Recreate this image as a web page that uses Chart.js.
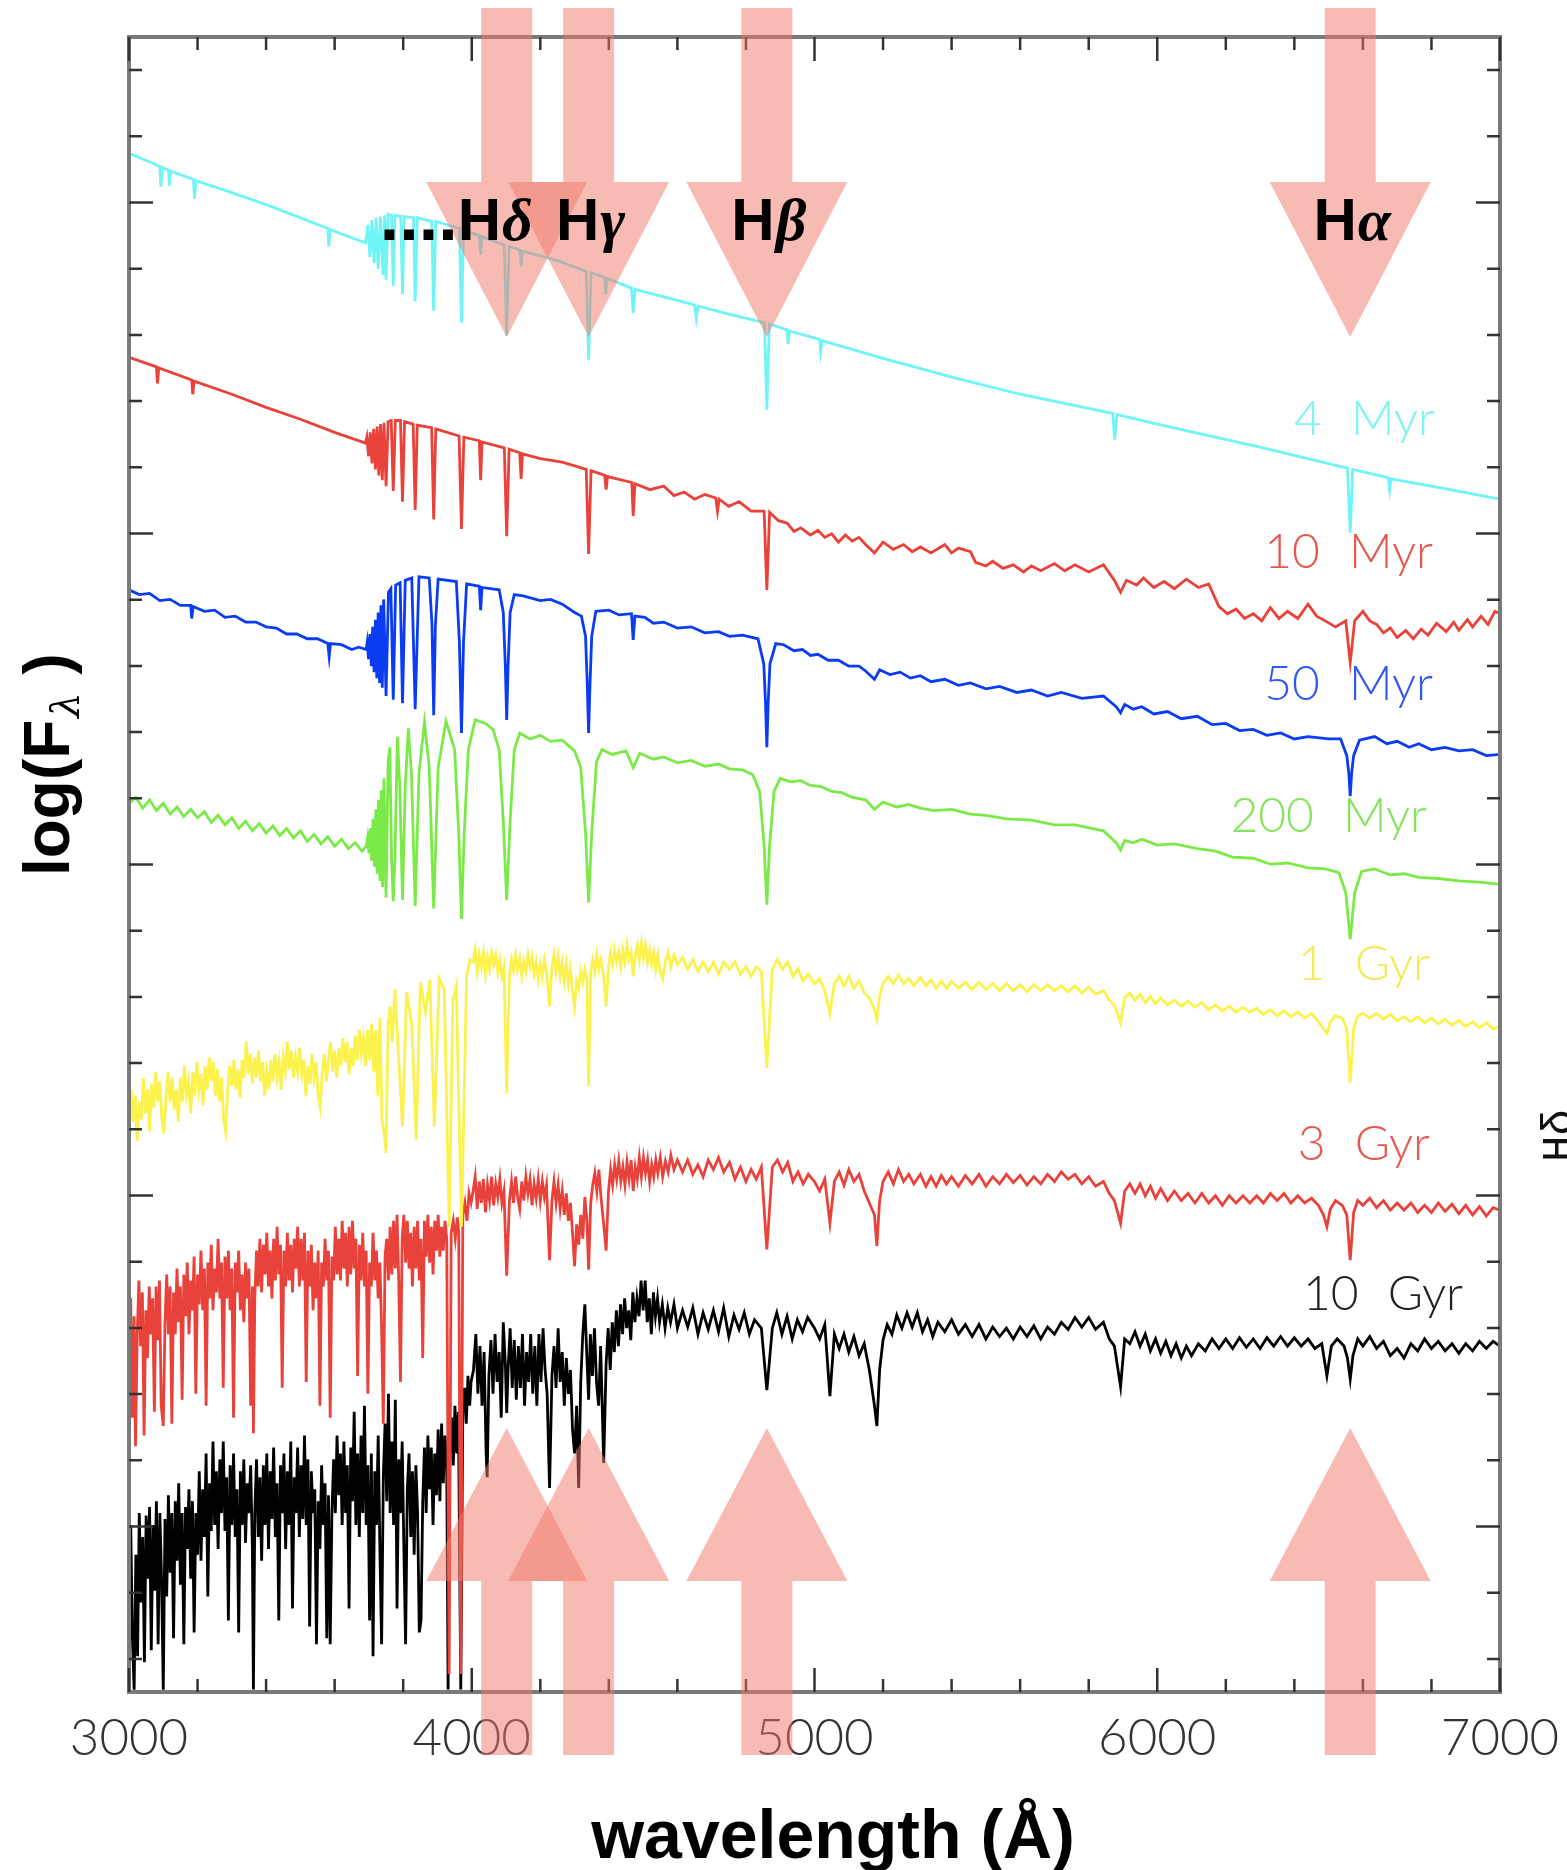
<!DOCTYPE html>
<html>
<head>
<meta charset="utf-8">
<script src="https://cdn.jsdelivr.net/npm/chart.js@4.4.1/dist/chart.umd.min.js"></script>
<style>
  html, body { margin: 0; background: #fff; }
  #wrap { width: 1567px; height: 1870px; position: relative; }
</style>
</head>
<body>
<div id="wrap"><canvas id="spec"></canvas></div>
<script>
// ---- axis ticks ----
var wlMajor = [3000, 4000, 5000, 6000, 7000];
var wlMinor = [3200, 3400, 3600, 3800, 4200, 4400, 4600, 4800, 5200, 5400, 5600, 5800, 6200, 6400, 6600, 6800];
// log flux axis has no labels, only ticks (arbitrary offset units)
var fluxTicks = [27.75, 83.25, 138.75, 194.25, 249.75, 305.25, 360.75, 416.25, 471.75, 527.25, 582.75, 638.25,
  693.75, 749.25, 804.75, 860.25, 915.75, 971.25, 1026.75, 1082.25, 1137.75, 1193.25, 1248.75, 1304.25, 1359.75];
var fluxMajor = [138.75, 416.25, 693.75, 971.25, 1248.75];

// ---- Balmer lines ----
var balmerLabels = ['....H\u03b4', 'H\u03b3', 'H\u03b2', 'H\u03b1'];
var balmerWl = [4102, 4341, 4861, 6563];

// ---- population ages ----
var ageLabels = ['4 Myr', '10 Myr', '50 Myr', '200 Myr', '1 Gyr', '3 Gyr', '10 Gyr'];

// ---- spectra: [wavelength (A), log flux + offset] ----
var spec4Myr = [[3000,1290],[3050,1284],[3090,1279],[3093,1262],[3097,1278],[3115,1276],[3118,1263],[3122,1275],[3188,1268],[3191,1252],[3195,1267],[3300,1257],[3400,1247],[3500,1236],[3580,1227],[3583,1212],[3587,1226],[3690,1215],[3697,1230],[3703,1203],[3709,1234],[3715,1198],[3721,1236],[3727,1193],[3734,1237],[3741,1188],[3746,1238],[3750,1184],[3756,1239],[3766,1238],[3771,1179],[3776,1238],[3793,1237],[3798,1172],[3803,1237],[3830,1236],[3835,1166],[3841,1236],[3883,1233],[3889,1158],[3895,1233],[3964,1227],[3970,1148],[3976,1226],[4022,1221],[4026,1205],[4030,1220],[4095,1213],[4102,1137],[4109,1212],[4140,1209],[4144,1195],[4148,1208],[4250,1200],[4334,1191],[4341,1117],[4348,1190],[4388,1186],[4391,1172],[4395,1185],[4466,1177],[4471,1156],[4476,1176],[4650,1163],[4655,1152],[4660,1162],[4752,1155],[4854,1148],[4861,1075],[4868,1147],[4920,1142],[4923,1130],[4927,1141],[5015,1134],[5018,1124],[5022,1133],[5200,1118],[5406,1102],[5600,1088],[5870,1072],[5876,1050],[5882,1071],[6000,1063],[6293,1044],[6555,1026],[6563,972],[6570,1025],[6674,1018],[6678,1008],[6682,1017],[6800,1011],[7000,1000]];

var spec10Myr = [[3000,1119],[3080,1111],[3083,1097],[3087,1110],[3183,1100],[3186,1088],[3190,1099],[3300,1088],[3400,1077],[3500,1067],[3600,1056],[3690,1047],[3694,1052],[3699,1036],[3704,1056],[3709,1030],[3714,1059],[3719,1025],[3724,1061],[3729,1020],[3734,1063],[3739,1016],[3744,1064],[3750,1011],[3756,1065],[3765,1066],[3771,1007],[3777,1066],[3792,1066],[3798,998],[3804,1065],[3829,1063],[3835,991],[3841,1062],[3883,1060],[3889,983],[3895,1059],[3963,1053],[3970,975],[3977,1052],[4022,1049],[4026,1016],[4030,1048],[4095,1043],[4102,969],[4109,1042],[4140,1039],[4144,1017],[4148,1038],[4200,1034],[4264,1031],[4334,1025],[4341,954],[4348,1024],[4388,1020],[4392,1008],[4396,1019],[4467,1014],[4471,986],[4476,1013],[4520,1008],[4560,1011],[4590,1003],[4620,1006],[4650,1000],[4680,1004],[4712,1001],[4717,990],[4722,1000],[4750,994],[4780,998],[4815,990],[4853,990],[4861,924],[4869,989],[4895,982],[4920,980],[4940,973],[4960,976],[4988,970],[5010,974],[5030,968],[5050,971],[5070,964],[5090,970],[5110,965],[5130,968],[5149,962],[5175,955],[5200,964],[5230,958],[5260,962],[5285,956],[5309,960],[5340,955],[5380,962],[5400,955],[5420,959],[5455,956],[5470,947],[5500,944],[5520,948],[5550,942],[5580,945],[5610,939],[5633,944],[5660,940],[5700,946],[5730,940],[5760,945],[5800,939],[5843,945],[5875,932],[5893,922],[5910,932],[5940,928],[5960,934],[5990,926],[6020,931],[6050,925],[6085,933],[6120,926],[6150,929],[6180,910],[6205,904],[6230,908],[6255,900],[6280,904],[6305,898],[6330,909],[6355,900],[6380,906],[6410,900],[6440,912],[6465,902],[6490,898],[6520,893],[6550,898],[6563,863],[6576,898],[6600,906],[6620,898],[6640,895],[6660,888],[6680,892],[6700,884],[6725,890],[6747,883],[6770,891],[6790,886],[6815,896],[6843,889],[6865,897],[6880,890],[6905,899],[6920,893],[6945,902],[6965,895],[6985,906],[7000,904]];

var spec50Myr = [[3000,924],[3030,920],[3060,921],[3090,915],[3120,916],[3150,911],[3180,911],[3183,900],[3187,910],[3220,906],[3250,907],[3280,901],[3310,902],[3340,897],[3370,897],[3400,893],[3430,892],[3460,887],[3490,887],[3520,883],[3550,883],[3580,879],[3584,868],[3588,879],[3620,878],[3650,874],[3670,876],[3692,874],[3695,880],[3699,866],[3703,887],[3707,860],[3711,893],[3715,855],[3719,899],[3723,850],[3727,905],[3731,846],[3735,911],[3739,842],[3743,916],[3750,835],[3757,922],[3764,925],[3771,832],[3778,928],[3791,930],[3798,829],[3806,932],[3825,934],[3835,824],[3846,935],[3876,934],[3884,895],[3889,819],[3894,895],[3902,933],[3955,931],[3964,880],[3970,804],[3976,880],[3985,929],[4022,927],[4026,907],[4030,926],[4080,924],[4092,905],[4098,860],[4102,815],[4106,860],[4112,905],[4124,920],[4150,919],[4200,915],[4230,916],[4264,912],[4300,905],[4320,902],[4332,885],[4337,845],[4341,804],[4345,845],[4350,885],[4362,906],[4400,907],[4430,903],[4466,904],[4471,882],[4476,902],[4505,901],[4530,896],[4560,897],[4600,892],[4640,893],[4680,888],[4720,889],[4752,885],[4790,886],[4835,883],[4852,862],[4857,830],[4861,792],[4865,830],[4870,862],[4887,879],[4910,878],[4940,873],[4965,874],[4988,869],[5010,870],[5040,865],[5070,865],[5100,860],[5130,860],[5149,856],[5175,849],[5190,857],[5220,853],[5250,855],[5280,850],[5309,852],[5340,847],[5380,849],[5420,844],[5455,846],[5500,841],[5540,843],[5590,838],[5633,840],[5680,835],[5720,838],[5780,833],[5843,835],[5880,826],[5893,821],[5905,828],[5930,824],[5955,826],[5990,820],[6030,822],[6070,816],[6117,818],[6160,811],[6200,812],[6240,806],[6280,807],[6320,802],[6360,804],[6400,799],[6440,801],[6500,799],[6535,799],[6553,785],[6559,770],[6563,751],[6567,770],[6573,785],[6590,798],[6634,801],[6670,795],[6700,797],[6735,792],[6763,795],[6800,790],[6840,792],[6880,789],[6920,790],[6960,785],[7000,786]];

var spec200Myr = [[3000,745],[3020,750],[3040,741],[3060,748],[3080,739],[3100,745],[3120,736],[3140,742],[3160,734],[3180,740],[3200,733],[3220,738],[3240,729],[3260,735],[3280,727],[3300,733],[3320,724],[3340,730],[3360,722],[3380,728],[3400,720],[3420,726],[3440,718],[3460,724],[3480,716],[3500,722],[3520,713],[3540,719],[3560,711],[3580,717],[3600,709],[3620,715],[3640,707],[3660,712],[3680,705],[3692,709],[3696,716],[3700,703],[3704,724],[3708,697],[3712,732],[3716,692],[3720,740],[3724,686],[3728,748],[3732,680],[3736,756],[3740,675],[3744,766],[3750,666],[3756,780],[3761,792],[3766,700],[3771,663],[3776,700],[3783,801],[3790,760],[3798,664],[3806,760],[3815,808],[3824,770],[3835,659],[3846,770],[3862,813],[3876,775],[3889,657],[3902,775],[3925,814],[3950,790],[3962,720],[3970,648],[3978,720],[3990,790],[4010,815],[4040,812],[4062,807],[4080,790],[4092,730],[4102,664],[4112,730],[4124,790],[4140,804],[4170,799],[4200,802],[4230,797],[4264,798],[4300,789],[4318,775],[4332,720],[4341,662],[4350,720],[4364,780],[4380,790],[4410,786],[4450,789],[4471,775],[4490,787],[4530,782],[4560,784],[4600,779],[4640,781],[4680,776],[4720,778],[4752,774],[4790,773],[4820,769],[4840,755],[4853,710],[4861,660],[4869,710],[4882,755],[4900,766],[4930,763],[4960,764],[4988,760],[5020,759],[5050,755],[5080,754],[5110,750],[5149,748],[5175,740],[5200,746],[5240,742],[5275,744],[5309,741],[5350,739],[5400,740],[5455,736],[5500,735],[5560,732],[5633,731],[5700,727],[5760,727],[5843,722],[5880,712],[5893,706],[5905,714],[5930,712],[5955,715],[6000,710],[6050,711],[6117,707],[6170,705],[6220,700],[6280,699],[6330,694],[6380,695],[6440,691],[6490,690],[6530,687],[6550,670],[6563,631],[6576,670],[6596,688],[6634,690],[6680,685],[6720,686],[6763,683],[6820,682],[6880,680],[6940,679],[7000,677]];

var spec1Gyr = [[3000,470],[3006,505],[3012,478],[3018,500],[3024,462],[3030,495],[3036,480],[3042,515],[3048,485],[3054,505],[3060,470],[3066,510],[3072,490],[3078,520],[3084,495],[3090,512],[3096,480],[3102,468],[3108,500],[3114,520],[3120,495],[3126,515],[3132,488],[3138,505],[3144,478],[3150,515],[3156,495],[3162,525],[3168,500],[3174,512],[3180,485],[3186,520],[3192,500],[3198,528],[3204,505],[3210,518],[3216,492],[3222,525],[3228,505],[3234,532],[3240,512],[3246,528],[3252,500],[3258,522],[3264,495],[3270,515],[3276,480],[3282,470],[3288,505],[3294,525],[3300,508],[3306,530],[3312,505],[3318,522],[3324,498],[3330,530],[3336,515],[3342,545],[3348,518],[3354,535],[3360,510],[3366,532],[3372,515],[3378,538],[3384,512],[3390,528],[3396,500],[3402,520],[3408,505],[3414,530],[3420,512],[3426,535],[3432,515],[3438,528],[3444,505],[3450,532],[3456,520],[3462,545],[3468,522],[3474,538],[3480,515],[3486,532],[3492,520],[3498,540],[3504,518],[3510,530],[3516,500],[3522,525],[3528,510],[3534,535],[3540,515],[3546,528],[3552,500],[3558,490],[3564,520],[3570,535],[3576,512],[3582,530],[3588,545],[3594,520],[3600,538],[3606,515],[3612,540],[3618,525],[3624,548],[3630,528],[3636,545],[3642,518],[3648,540],[3654,525],[3660,550],[3666,530],[3672,555],[3678,535],[3684,548],[3690,525],[3696,555],[3702,530],[3708,560],[3714,520],[3720,555],[3726,500],[3732,565],[3738,480],[3744,470],[3750,452],[3756,560],[3762,575],[3768,545],[3776,589],[3785,540],[3798,474],[3810,587],[3825,560],[3838,463],[3850,595],[3865,570],[3878,597],[3891,474],[3905,598],[3920,589],[3934,390],[3945,580],[3955,592],[3970,390],[3985,600],[3995,614],
  [4004,612],[4010,622],[4016,604],[4022,618],[4028,608],[4034,620],[4040,602],[4046,616],[4052,606],[4058,620],[4064,610],[4070,618],[4076,604],[4082,614],[4088,600],[4094,608],[4102,502],[4110,600],[4116,614],[4122,605],[4128,618],[4134,606],[4140,615],[4146,600],[4152,612],[4158,604],[4164,618],[4170,608],[4176,616],[4182,602],[4188,612],[4194,598],[4200,610],[4206,600],[4212,614],[4218,604],[4227,575],[4234,608],[4240,618],[4246,604],[4252,616],[4258,600],[4264,612],[4270,596],[4276,610],[4282,594],[4288,606],[4294,588],[4300,575],[4306,596],[4312,590],[4318,604],[4324,595],[4330,606],[4336,598],[4341,508],[4347,604],[4353,614],[4359,604],[4365,618],[4371,606],[4377,614],[4385,600],[4392,575],[4399,608],[4405,620],[4411,610],[4417,622],[4423,612],[4429,620],[4435,608],[4441,622],[4447,612],[4453,626],[4459,614],[4465,620],[4471,600],[4477,618],[4483,626],[4489,614],[4495,628],[4501,616],[4507,626],[4513,612],[4519,622],[4525,610],[4531,620],[4537,606],[4543,618],[4550,604],[4557,598],[4565,612],[4573,620],[4581,608],[4590,618],[4600,610],
  [4615,616],[4630,606],[4645,614],[4660,604],[4675,612],[4690,604],[4705,612],[4720,602],[4735,612],[4752,606],[4768,612],[4784,602],[4800,608],[4815,600],[4830,608],[4845,604],[4861,523],[4877,606],[4892,614],[4907,606],[4922,612],[4937,600],[4952,606],[4967,596],[4982,602],[5000,594],[5015,598],[5030,588],[5045,569],[5058,594],[5072,600],[5086,592],[5100,600],[5115,590],[5130,596],[5145,586],[5160,582],[5175,572],[5182,564],[5190,584],[5200,594],[5215,600],[5230,594],[5245,601],[5260,594],[5275,598],[5290,592],[5309,599],[5325,592],[5340,597],[5355,590],[5370,596],[5385,590],[5400,596],[5420,590],[5440,595],[5460,589],[5480,595],[5500,589],[5520,594],[5540,588],[5560,594],[5580,588],[5600,593],[5620,587],[5640,593],[5660,588],[5680,593],[5700,588],[5720,592],[5740,587],[5760,592],[5780,586],[5800,591],[5820,585],[5843,588],[5860,580],[5875,576],[5893,561],[5905,582],[5920,586],[5935,580],[5950,585],[5965,578],[5980,583],[5995,577],[6010,582],[6030,576],[6050,580],[6070,575],[6090,579],[6110,574],[6130,578],[6150,572],[6170,576],[6190,571],[6210,575],[6230,570],[6250,574],[6270,570],[6290,573],[6310,568],[6330,572],[6350,567],[6370,571],[6390,566],[6410,570],[6430,565],[6450,569],[6470,562],[6485,556],[6495,552],[6505,562],[6520,567],[6540,565],[6553,556],[6563,511],[6573,556],[6585,567],[6600,569],[6620,565],[6640,569],[6660,564],[6680,568],[6700,563],[6720,566],[6740,562],[6760,566],[6780,561],[6800,565],[6820,560],[6840,564],[6860,559],[6880,563],[6900,558],[6920,562],[6940,557],[6960,561],[6980,556],[7000,558]];

var spec3Gyr = [[3000,260],[3005,330],[3010,230],[3015,315],[3019,206],[3024,300],[3029,345],[3034,290],[3039,335],[3044,215],[3049,320],[3054,280],[3059,340],[3064,300],[3069,330],[3074,235],[3079,340],[3084,295],[3089,345],[3094,240],[3100,223],[3105,310],[3110,350],[3115,300],[3120,340],[3125,225],[3130,335],[3135,300],[3140,355],[3145,310],[3150,340],[3155,245],[3160,350],[3165,315],[3170,360],[3175,300],[3180,345],[3185,320],[3190,365],[3195,250],[3200,350],[3205,325],[3210,370],[3215,320],[3220,355],[3225,240],[3230,360],[3235,330],[3240,375],[3245,320],[3250,355],[3255,335],[3260,380],[3265,330],[3270,360],[3275,255],[3280,365],[3285,330],[3290,370],[3295,320],[3300,355],[3305,230],[3310,360],[3315,335],[3320,370],[3325,320],[3330,350],[3335,310],[3340,360],[3345,330],[3350,355],[3355,240],[3360,340],[3363,217],[3367,330],[3372,370],[3377,340],[3382,380],[3387,335],[3392,375],[3397,350],[3402,385],[3407,340],[3412,370],[3417,330],[3422,380],[3427,345],[3432,390],[3437,350],[3442,375],[3447,255],[3452,370],[3457,340],[3462,385],[3467,345],[3472,375],[3477,335],[3482,380],[3487,355],[3492,390],[3497,340],[3502,380],[3507,345],[3512,385],[3517,260],[3522,370],[3527,340],[3532,375],[3537,320],[3542,360],[3547,330],[3552,370],[3557,240],[3562,360],[3567,340],[3572,380],[3577,345],[3582,370],[3587,230],[3592,365],[3597,345],[3602,390],[3607,350],[3612,380],[3617,345],[3622,395],[3627,355],[3632,385],[3637,340],[3642,390],[3647,350],[3652,395],[3657,355],[3662,380],[3667,265],[3672,375],[3677,345],[3682,385],[3687,340],[3692,370],[3697,250],[3702,360],[3707,340],[3712,385],[3717,345],[3722,370],[3727,330],[3732,360],[3737,305],[3742,225],[3747,365],[3752,380],[3757,345],[3762,390],[3767,350],[3772,395],[3777,355],[3782,400],[3787,345],[3792,260],[3797,380],[3802,400],[3807,360],[3812,395],[3817,355],[3822,385],[3827,340],[3832,390],[3837,355],[3842,395],[3847,345],[3852,380],[3857,280],[3862,395],[3867,365],[3872,400],[3877,360],[3882,390],[3887,350],[3892,395],[3897,370],[3902,400],[3907,365],[3912,390],[3917,370],[3922,395],[3927,380],[3934,15],[3940,385],[3946,395],[3952,380],[3958,398],[3962,385],[3968,15],[3974,400],[3980,410],[3986,395],[3992,418],[3998,410],
  [4004,420],[4010,432],[4016,405],[4022,428],[4028,410],[4034,430],[4040,402],[4046,425],[4052,412],[4058,432],[4064,408],[4070,426],[4076,415],[4082,430],[4088,410],[4094,420],[4102,349],[4110,412],[4116,428],[4122,410],[4128,432],[4134,415],[4140,405],[4146,428],[4152,412],[4158,432],[4164,418],[4170,430],[4176,408],[4182,426],[4188,414],[4194,430],[4200,412],[4206,428],[4212,415],[4218,425],[4227,362],[4234,412],[4240,428],[4246,410],[4252,425],[4258,405],[4264,420],[4270,400],[4276,418],[4282,395],[4288,410],[4294,385],[4300,357],[4306,392],[4312,375],[4318,400],[4324,380],[4330,415],[4336,395],[4341,354],[4347,410],[4353,425],[4359,435],[4365,420],[4371,438],[4377,415],[4385,392],[4392,370],[4399,420],[4405,438],[4411,425],[4417,442],[4423,430],[4429,445],[4435,428],[4441,440],[4447,425],[4453,444],[4459,430],[4465,446],[4471,420],[4477,440],[4483,430],[4489,448],[4495,432],[4501,448],[4507,435],[4513,446],[4519,428],[4525,442],[4531,432],[4537,446],[4543,435],[4550,448],[4557,432],[4565,445],[4573,436],[4581,450],[4590,438],[4600,446],
  [4615,436],[4630,446],[4645,434],[4660,442],[4675,432],[4690,446],[4705,438],[4720,448],[4735,436],[4752,444],[4768,430],[4784,440],[4800,428],[4815,438],[4830,430],[4845,440],[4861,371],[4877,440],[4892,446],[4907,436],[4922,444],[4937,428],[4952,436],[4967,426],[4982,434],[5000,428],[5015,420],[5030,430],[5045,393],[5058,428],[5072,436],[5086,425],[5100,438],[5115,428],[5130,434],[5145,420],[5160,410],[5175,400],[5182,374],[5190,412],[5200,428],[5215,436],[5230,426],[5245,438],[5260,428],[5275,434],[5290,426],[5309,434],[5325,424],[5340,432],[5355,424],[5370,433],[5385,426],[5400,432],[5420,424],[5440,433],[5460,426],[5480,434],[5500,424],[5520,432],[5540,426],[5560,434],[5580,427],[5600,433],[5620,425],[5640,432],[5660,426],[5680,434],[5700,428],[5720,436],[5740,430],[5760,434],[5780,426],[5800,432],[5820,424],[5843,428],[5860,418],[5875,412],[5893,393],[5905,420],[5920,426],[5935,418],[5950,426],[5965,416],[5980,424],[5995,414],[6010,422],[6030,412],[6050,420],[6070,412],[6090,418],[6110,410],[6130,418],[6150,410],[6170,416],[6190,408],[6210,416],[6230,410],[6250,416],[6270,410],[6290,416],[6310,410],[6330,418],[6350,412],[6370,418],[6390,410],[6410,416],[6430,410],[6450,414],[6470,408],[6485,400],[6495,390],[6505,405],[6520,412],[6540,408],[6553,400],[6563,362],[6573,402],[6585,412],[6600,408],[6620,414],[6640,406],[6660,412],[6680,404],[6700,410],[6720,404],[6740,410],[6760,402],[6780,408],[6800,402],[6820,410],[6840,403],[6860,409],[6880,401],[6900,408],[6920,400],[6940,407],[6960,399],[6980,406],[7000,404]];

var spec10Gyr = [[3000,90],[3005,140],[3010,45],[3015,2],[3020,115],[3025,30],[3030,150],[3035,75],[3040,130],[3045,25],[3050,148],[3055,95],[3060,155],[3065,35],[3070,140],[3075,85],[3080,160],[3085,40],[3090,150],[3095,95],[3100,2],[3105,145],[3110,80],[3115,165],[3120,100],[3125,150],[3130,45],[3135,160],[3140,110],[3145,175],[3150,90],[3155,150],[3160,40],[3165,155],[3170,120],[3175,170],[3180,95],[3185,160],[3190,50],[3195,150],[3200,115],[3205,185],[3210,110],[3215,170],[3220,130],[3225,200],[3230,80],[3235,175],[3240,135],[3245,210],[3250,140],[3255,185],[3260,120],[3265,195],[3270,150],[3275,210],[3280,135],[3285,180],[3290,60],[3295,190],[3300,140],[3305,200],[3310,130],[3315,170],[3320,50],[3325,185],[3330,140],[3335,195],[3340,125],[3345,175],[3350,150],[3355,190],[3360,120],[3363,2],[3367,150],[3372,195],[3377,130],[3382,180],[3387,110],[3392,190],[3397,140],[3402,200],[3407,120],[3412,185],[3417,145],[3422,205],[3427,130],[3432,175],[3437,60],[3442,190],[3447,150],[3452,200],[3457,120],[3462,185],[3467,140],[3472,210],[3477,70],[3482,180],[3487,150],[3492,205],[3497,130],[3502,190],[3507,145],[3512,215],[3517,140],[3522,195],[3527,55],[3532,185],[3537,150],[3542,170],[3547,40],[3552,160],[3557,120],[3562,190],[3567,140],[3572,175],[3577,45],[3582,165],[3587,40],[3592,150],[3597,195],[3602,150],[3607,215],[3612,165],[3617,200],[3622,140],[3627,210],[3632,150],[3637,190],[3642,70],[3647,205],[3652,160],[3657,235],[3662,140],[3667,200],[3672,130],[3677,215],[3682,150],[3687,240],[3692,140],[3697,190],[3702,60],[3707,200],[3712,30],[3717,185],[3722,140],[3727,215],[3732,120],[3737,40],[3742,180],[3747,225],[3752,160],[3757,250],[3762,150],[3767,210],[3772,140],[3777,245],[3782,70],[3787,195],[3792,150],[3797,210],[3802,120],[3807,40],[3812,170],[3817,200],[3822,130],[3827,185],[3832,115],[3837,190],[3842,150],[3847,50],[3852,60],[3857,160],[3862,205],[3867,150],[3872,215],[3877,170],[3882,205],[3887,140],[3892,200],[3897,165],[3902,220],[3907,160],[3912,225],[3917,175],[3922,215],[3927,190],[3931,2],[3936,200],[3941,230],[3946,190],[3951,240],[3956,200],[3961,235],[3968,2],[3974,240],[3979,255],[3984,225],[3989,265],[3994,240],[3998,260],
  [4005,270],[4012,300],[4018,250],[4024,290],[4030,240],[4036,285],[4042,200],[4045,180],[4050,265],[4056,295],[4062,250],[4068,300],[4074,260],[4080,285],[4086,230],[4092,310],[4098,275],[4102,234],[4106,270],[4112,305],[4118,255],[4124,295],[4130,245],[4136,290],[4142,255],[4148,300],[4154,240],[4160,285],[4166,260],[4172,300],[4178,250],[4184,290],[4190,240],[4196,300],[4202,260],[4208,305],[4214,270],[4220,250],[4227,171],[4234,265],[4240,290],[4246,255],[4252,305],[4258,260],[4264,285],[4270,240],[4276,280],[4282,250],[4288,270],[4294,220],[4300,200],[4306,240],[4312,171],[4318,260],[4324,300],[4330,325],[4336,280],[4341,245],[4346,300],[4352,265],[4358,305],[4364,260],[4370,240],[4376,290],[4385,192],[4392,275],[4398,305],[4404,270],[4410,310],[4416,285],[4422,320],[4428,290],[4434,325],[4440,300],[4446,330],[4452,305],[4458,320],[4464,295],[4470,335],[4476,310],[4482,330],[4488,315],[4494,345],[4500,320],[4506,345],[4512,310],[4518,330],[4524,300],[4530,335],[4536,315],[4542,330],[4548,310],[4556,325],[4564,305],[4572,322],[4580,310],[4590,325],[4600,305],
  [4615,320],[4630,306],[4645,322],[4660,300],[4675,318],[4690,304],[4705,320],[4720,302],[4735,322],[4750,298],[4765,316],[4780,304],[4795,318],[4810,300],[4825,312],[4845,305],[4861,253],[4877,305],[4890,318],[4905,300],[4920,315],[4935,296],[4950,312],[4965,302],[4980,314],[5000,305],[5015,296],[5030,308],[5045,248],[5058,300],[5072,288],[5086,300],[5100,285],[5115,298],[5130,282],[5145,292],[5160,270],[5175,240],[5182,223],[5190,270],[5200,295],[5212,308],[5226,300],[5240,316],[5255,305],[5270,318],[5285,306],[5300,318],[5315,302],[5330,312],[5345,298],[5360,310],[5380,302],[5400,312],[5420,300],[5440,308],[5460,298],[5480,308],[5500,296],[5520,306],[5540,298],[5560,305],[5580,296],[5600,306],[5620,298],[5640,307],[5660,296],[5680,306],[5700,300],[5720,310],[5740,304],[5760,314],[5780,306],[5800,314],[5820,304],[5843,310],[5860,296],[5875,290],[5893,256],[5905,296],[5920,292],[5935,302],[5950,290],[5965,300],[5980,286],[5995,296],[6010,284],[6025,294],[6040,282],[6055,292],[6070,280],[6085,290],[6100,282],[6120,292],[6140,286],[6160,296],[6180,288],[6200,296],[6220,288],[6240,297],[6260,289],[6280,296],[6300,288],[6320,297],[6340,290],[6360,298],[6380,290],[6400,297],[6420,290],[6440,296],[6460,288],[6480,292],[6495,265],[6508,290],[6525,296],[6545,290],[6555,280],[6563,262],[6571,282],[6585,296],[6600,290],[6620,298],[6640,288],[6660,294],[6680,282],[6700,288],[6720,280],[6740,292],[6760,286],[6780,296],[6800,288],[6820,294],[6840,286],[6860,292],[6880,284],[6900,292],[6920,286],[6940,294],[6960,288],[6980,294],[7000,290]];

var spectra = [spec4Myr, spec10Myr, spec50Myr, spec200Myr, spec1Gyr, spec3Gyr, spec10Gyr];
var lineColors = ['#6ff5f5', '#e8423a', '#0a3cf2', '#7bea48', '#fbf24e', '#e8423a', '#000000'];
var labelColors = ['#7df4f4', '#e5584d', '#3158f0', '#86e45c', '#f3ea55', '#e5584d', '#222222'];
// right edge / baseline of each age label, px
var labelPos = [[1435, 435], [1433, 568], [1433, 700], [1427, 832], [1430, 980], [1430, 1160], [1463, 1310]];

var ARROW = 'rgba(241,119,105,0.5)';
var SHAFT_W = 51, HEAD_W = 161;
var FONT_H = 'bold 60px "Liberation Sans"';
var FONT_DOTS = 'bold 70px "Liberation Sans"';
var FONT_GREEK = 'italic bold 60px "Liberation Serif"';

function arrow(ctx, cx, tail, base, tip) {
  ctx.beginPath();
  ctx.moveTo(cx - SHAFT_W / 2, tail);
  ctx.lineTo(cx + SHAFT_W / 2, tail);
  ctx.lineTo(cx + SHAFT_W / 2, base);
  ctx.lineTo(cx + HEAD_W / 2, base);
  ctx.lineTo(cx, tip);
  ctx.lineTo(cx - HEAD_W / 2, base);
  ctx.lineTo(cx - SHAFT_W / 2, base);
  ctx.closePath();
  ctx.fill();
}

// "....Hδ" -> dots, "H", greek letter; each in its own font
function lineLabel(ctx, text, x, y, align) {
  var greek = text.slice(-1);
  var body = text.slice(0, -1);
  var dots = body.replace(/[^.]/g, '');
  var lead = body.slice(dots.length);
  ctx.font = FONT_DOTS; var w0 = dots ? ctx.measureText(dots).width : 0;
  ctx.font = FONT_H; var w1 = ctx.measureText(lead).width;
  ctx.font = FONT_GREEK; var w2 = ctx.measureText(greek).width;
  var total = w0 + w1 + w2 + 1;
  var left = align === 'right' ? x - total : x - total / 2;
  ctx.textAlign = 'left';
  if (dots) { ctx.font = FONT_DOTS; ctx.fillText(dots, left, y); }
  ctx.font = FONT_H; ctx.fillText(lead, left + w0, y);
  ctx.font = FONT_GREEK; ctx.fillText(greek, left + w0 + w1 + 1, y);
}

var overlay = {
  id: 'overlay',
  afterDatasetsDraw: function (chart) {
    var ctx = chart.ctx, a = chart.chartArea;
    var xs = chart.scales.x, ys = chart.scales.y;
    ctx.save();

    // frame
    ctx.strokeStyle = '#7a7a7a';
    ctx.lineWidth = 4;
    ctx.strokeRect(a.left, a.top, a.right - a.left, a.bottom - a.top);

    // inward ticks on all four sides
    ctx.strokeStyle = '#333';
    ctx.lineWidth = 2.5;
    ctx.beginPath();
    wlMajor.concat(wlMinor).forEach(function (v) {
      var px = xs.getPixelForValue(v), len = wlMajor.indexOf(v) >= 0 ? 24 : 13;
      ctx.moveTo(px, a.bottom); ctx.lineTo(px, a.bottom - len);
      ctx.moveTo(px, a.top); ctx.lineTo(px, a.top + len);
    });
    fluxTicks.forEach(function (v) {
      var py = ys.getPixelForValue(v), len = fluxMajor.indexOf(v) >= 0 ? 24 : 13;
      ctx.moveTo(a.left, py); ctx.lineTo(a.left + len, py);
      ctx.moveTo(a.right, py); ctx.lineTo(a.right - len, py);
    });
    ctx.stroke();

    // tick labels
    ctx.fillStyle = '#333';
    ctx.font = '300 51px Lato';
    ctx.textAlign = 'center';
    ctx.textBaseline = 'alphabetic';
    wlMajor.forEach(function (v) {
      ctx.fillText(String(v), xs.getPixelForValue(v), 1755);
    });

    // Balmer arrows
    ctx.fillStyle = ARROW;
    balmerWl.forEach(function (wl) {
      var cx = xs.getPixelForValue(wl);
      arrow(ctx, cx, 8, 182, 337);
      arrow(ctx, cx, 1755, 1581, 1428);
    });

    // Balmer labels
    ctx.fillStyle = '#000';
    balmerLabels.forEach(function (t, i) {
      var cx = xs.getPixelForValue(balmerWl[i]);
      if (i === 0) lineLabel(ctx, t, cx + 26, 240, 'right');
      else lineLabel(ctx, t, cx + 2, 240, 'center');
    });

    // age labels
    ctx.font = '300 48px Lato';
    ctx.textAlign = 'right';
    if ('wordSpacing' in ctx) ctx.wordSpacing = '16px';
    ageLabels.forEach(function (t, i) {
      ctx.fillStyle = labelColors[i];
      ctx.fillText(t, labelPos[i][0], labelPos[i][1]);
    });
    if ('wordSpacing' in ctx) ctx.wordSpacing = '0px';

    // axis titles
    ctx.fillStyle = '#000';
    ctx.textAlign = 'center';
    ctx.font = 'bold 68px "Liberation Sans"';
    ctx.fillText('wavelength (\u00c5)', 833, 1858);

    ctx.save();
    ctx.translate(69, 876);
    ctx.rotate(-Math.PI / 2);
    ctx.textAlign = 'left';
    ctx.font = 'bold 64px "Liberation Sans"';
    ctx.fillText('log(F', 0, 0);
    var w = ctx.measureText('log(F').width;
    ctx.font = 'italic 40px "DejaVu Serif"';
    ctx.fillText('\u03bb', w + 2, 10);
    w += ctx.measureText('\u03bb').width + 2;
    ctx.font = 'bold 64px "Liberation Sans"';
    ctx.fillText(' )', w, 0);
    ctx.restore();

    // clipped stray label at the right edge
    ctx.save();
    ctx.translate(1572, 1162);
    ctx.rotate(-Math.PI / 2);
    ctx.textAlign = 'left';
    ctx.fillStyle = '#111';
    ctx.font = '44px "Liberation Mono"';
    ctx.fillText('H\u03b4', 0, 0);
    ctx.restore();

    ctx.restore();
  }
};

new Chart(document.getElementById('spec'), {
  type: 'line',
  data: {
    datasets: ageLabels.map(function (name, i) {
      return {
        label: name,
        data: spectra[i].map(function (p) { return { x: p[0], y: p[1] }; }),
        borderColor: lineColors[i],
        borderWidth: 2.8,
        pointRadius: 0,
        fill: false,
        tension: 0
      };
    })
  },
  options: {
    responsive: true,
    maintainAspectRatio: false,
    animation: false,
    events: [],
    layout: { padding: { left: 129, top: 37, right: 67, bottom: 178 } },
    plugins: { legend: { display: false }, tooltip: { enabled: false } },
    scales: {
      x: { type: 'linear', min: 3000, max: 7000, display: false },
      y: { type: 'linear', min: 0, max: 1387.5, display: false }
    }
  },
  plugins: [overlay]
});
</script>
</body>
</html>
